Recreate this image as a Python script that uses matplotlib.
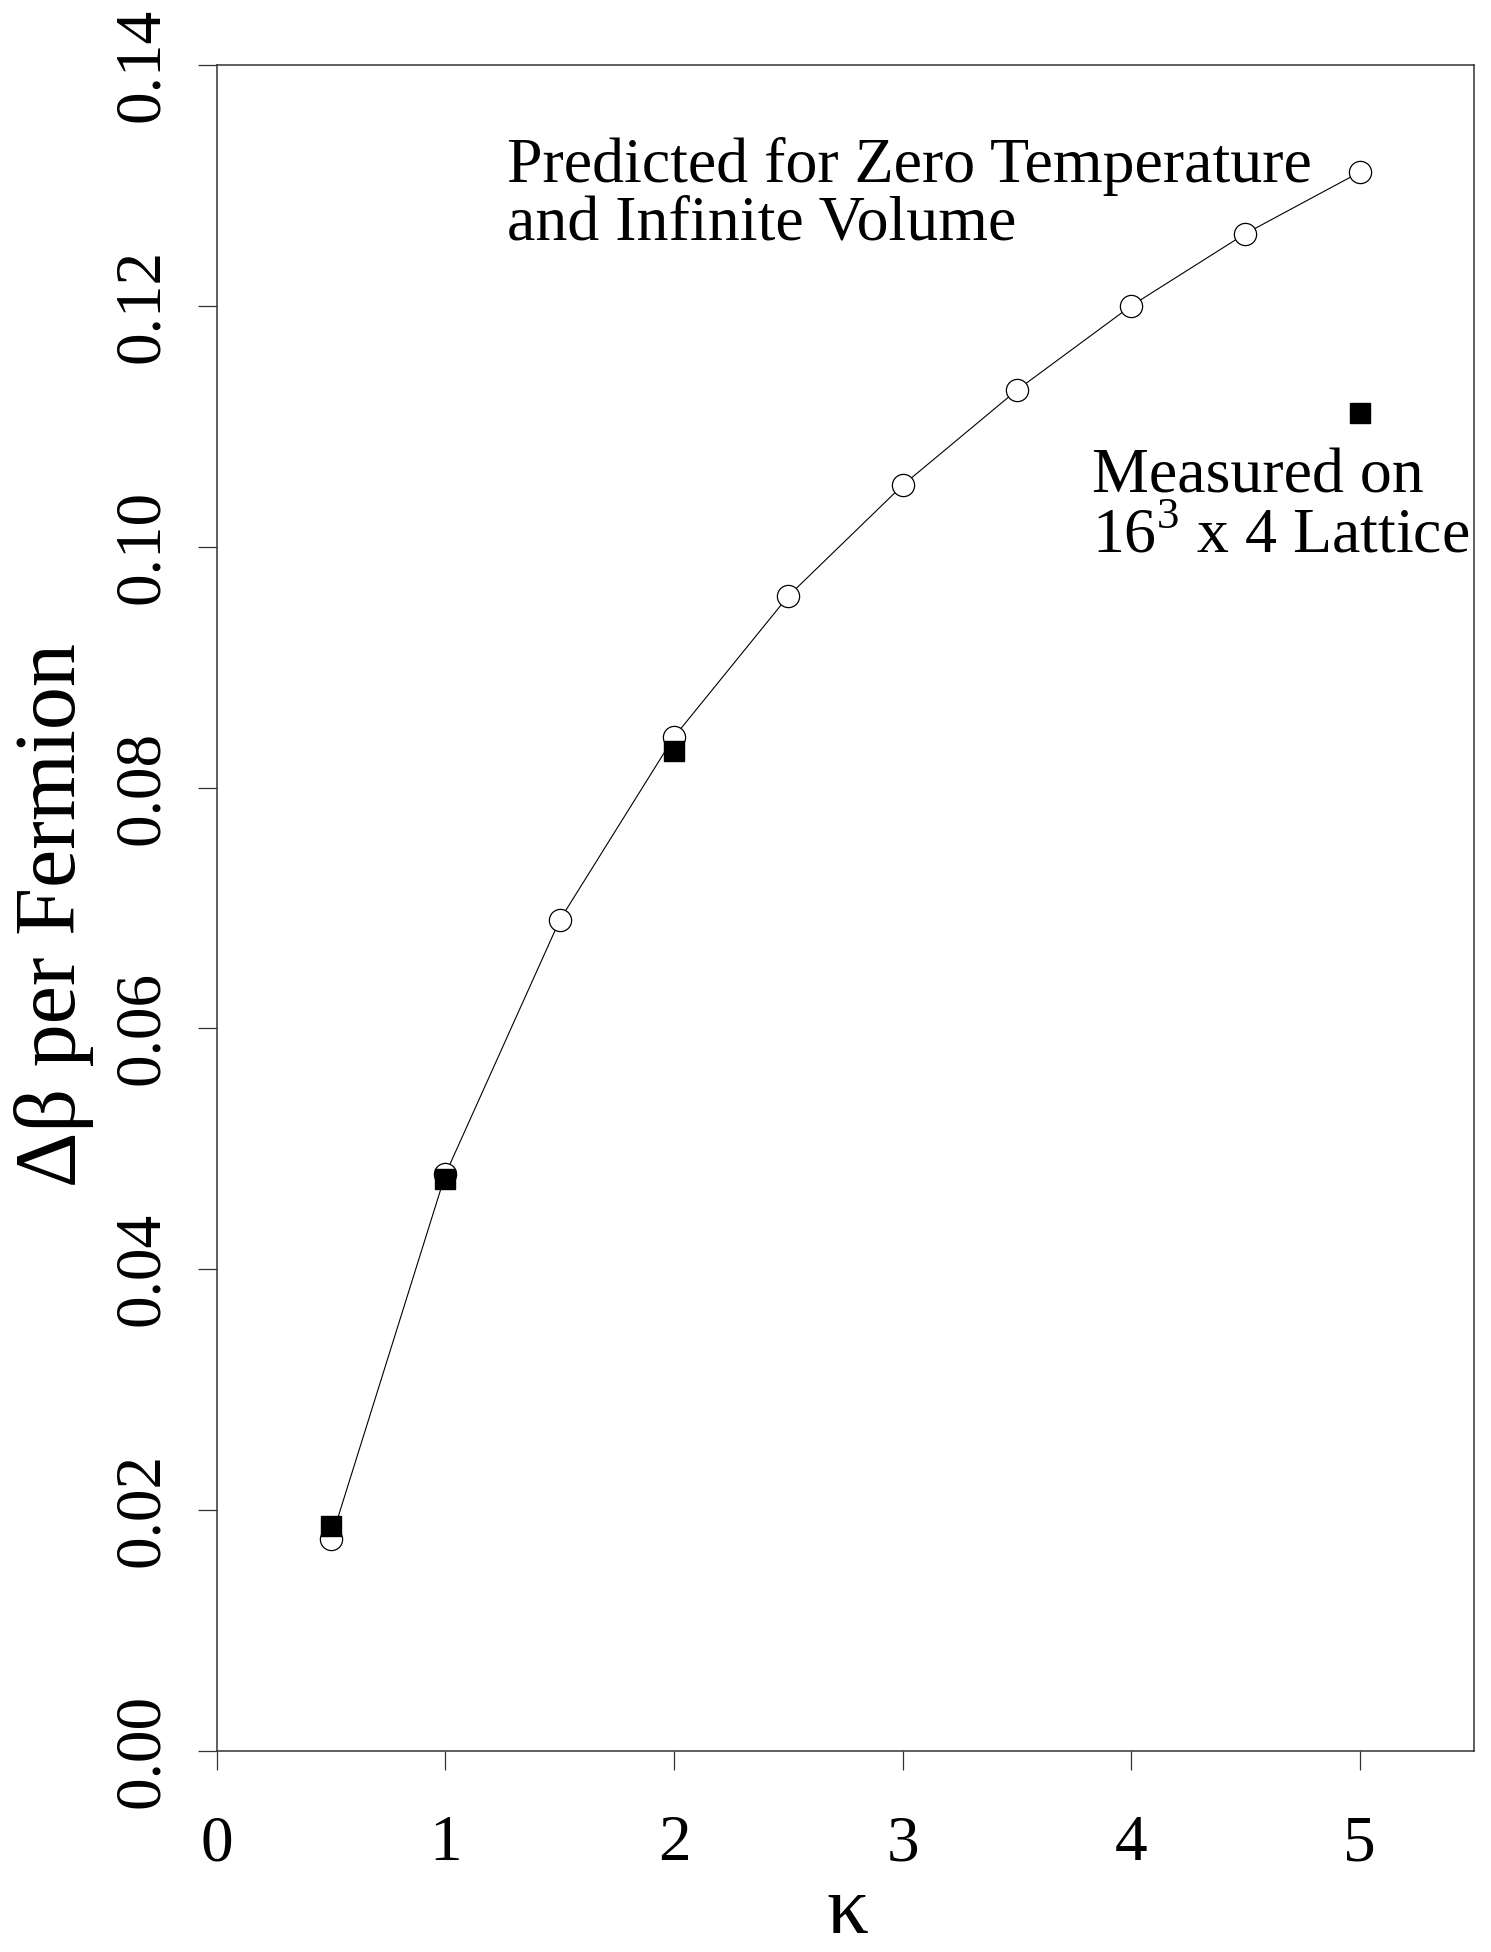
import numpy as np
import matplotlib
matplotlib.use('Agg')
from matplotlib import pyplot as plt

#==============================================================================
# data
#==============================================================================
kappa_pred = [0.5, 1.0, 1.5, 2.0, 2.5, 3.0, 3.5, 4.0, 4.5, 5.0]
dbeta_pred = [0.0176, 0.0479, 0.0690, 0.0842, 0.0959, 0.1051, 0.1130,
              0.1200, 0.1260, 0.1311]
kappa_meas = [0.5, 1.0, 2.0, 5.0]
dbeta_meas = [0.0187, 0.0475, 0.0830, 0.1111]

xticks = [0, 1, 2, 3, 4, 5]
yticks = [0.00, 0.02, 0.04, 0.06, 0.08, 0.10, 0.12, 0.14]

plt.rcParams['font.family'] = ['Liberation Serif', 'DejaVu Serif']
plt.rcParams['mathtext.fontset'] = 'custom'
plt.rcParams['mathtext.rm'] = 'Liberation Serif'

fig = plt.figure(figsize=(14.91, 19.52), dpi=100)
ax = fig.add_axes([0.1455, 0.1030, 0.8431, 0.8637])

#predicted curve: line with open circles
ax.plot(kappa_pred, dbeta_pred, color='k', lw=0.8, marker='o', ms=16,
        mfc='white', mec='k', mew=0.9, zorder=3)
#measured points: filled squares on top
ax.plot(kappa_meas, dbeta_meas, ls='none', marker='s', ms=15,
        mfc='k', mec='k', zorder=4)

ax.set_xlim(0, 5.5)
ax.set_ylim(0, 0.14)
ax.set_xticks(xticks)
ax.set_xticklabels([str(t) for t in xticks])
ax.set_yticks(yticks)
ax.set_yticklabels(['%.2f' % t for t in yticks])

ax.tick_params(axis='both', direction='out', length=14, width=0.9,
               labelsize=47, color='#333333')
ax.tick_params(axis='x', pad=32)
ax.tick_params(axis='y', pad=18, labelrotation=90)
for lab in ax.get_yticklabels():
    lab.set_va('center')
for s in ax.spines.values():
    s.set_linewidth(1.1)
    s.set_color('#333333')

ax.text(1.27, 0.1303, 'Predicted for Zero Temperature', fontsize=46,
        va='baseline', ha='left')
ax.text(1.27, 0.1255, 'and Infinite Volume', fontsize=46,
        va='baseline', ha='left')
ax.text(3.83, 0.1045, 'Measured on', fontsize=46, va='baseline', ha='left')
ax.text(3.83, 0.0995, r'16$^\mathrm{3}$ x 4 Lattice', fontsize=46,
        va='baseline', ha='left')

fig.text(847/1491, 1/1952, 'κ', fontsize=60, ha='center', va='bottom')
fig.text(0.036, 0.531, 'Δβ per Fermion', fontsize=62, rotation=90,
         ha='center', va='center')

fig.savefig('out.png', dpi=100)
